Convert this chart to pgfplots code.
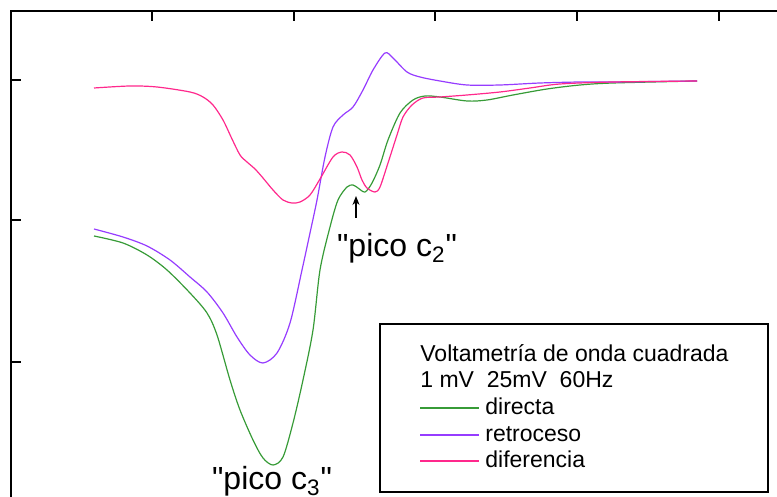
\documentclass[border=0pt]{standalone}
\usepackage{fontspec}
\setmainfont{Liberation Sans}[Ligatures=TeXOff]
\usepackage{pgfplots}
\pgfplotsset{compat=1.18}
\usetikzlibrary{arrows.meta}

\definecolor{cdir}{RGB}{55,155,55}
\definecolor{cret}{RGB}{150,60,255}
\definecolor{cdif}{RGB}{255,40,140}

\tikzset{legtxt/.style={anchor=base west, inner sep=0pt, font=\fontsize{11.5}{13}\selectfont}}

\begin{document}
\begin{tikzpicture}
\begin{axis}[
    x=0.5pt, y=0.5pt,
    xmin=11, xmax=800, ymin=-10, ymax=486,
    xtick={152,294,435,577,719},
    ytick={135,277,417},
    xticklabels={}, yticklabels={},
    tick align=inside,
    major tick length=5pt,
    tick style={line width=1pt, black},
    axis line style={line width=0.6pt},
    clip=false,
]
\coordinate (bl) at (axis cs:0,0);
\coordinate (tr) at (axis cs:777,497);

% directa
\addplot[cdir, line width=0.6pt, smooth, tension=0.5] coordinates {
(94,261) (123,254) (147,242) (167,227) (190,204) (207,184) (217,162)
(230,117) (240,87) (253,57) (263,39) (273,32) (283,40) (293,74)
(303,117) (313,167) (320,227) (330,270) (338,297) (347,310) (353,312)
(358,309) (365,305) (372,314) (380,332) (388,357) (400,384) (413,397)
(425,401) (440,400) (467,396) (487,397) (513,402) (547,408) (580,412)
(613,414) (697,416)
};

% retroceso
\addplot[cret, line width=0.6pt, smooth, tension=0.5] coordinates {
(94,268) (123,260) (147,251) (170,237) (190,220) (207,205) (223,184)
(237,160) (250,142) (263,134) (277,144) (290,174) (302,227) (310,264)
(317,297) (325,340) (333,370) (343,382) (353,390) (363,407) (373,427)
(385,444) (393,439) (407,425) (420,420) (440,416) (467,412) (500,412)
(540,414) (580,415) (613,415) (697,416)
};

% diferencia
\addplot[cdif, line width=0.6pt, smooth, tension=0.5] coordinates {
(94,409) (130,411) (157,410) (190,405) (203,400) (213,392) (223,377)
(232,358) (240,342) (247,335) (255,328) (263,319) (273,307) (283,297)
(292,294) (300,295) (310,302) (320,318) (333,340) (342,345) (350,342)
(357,330) (362,317) (367,309) (375,305) (380,310) (388,334) (397,362)
(403,380) (412,392) (423,399) (440,400) (467,402) (500,405) (530,409)
(560,413) (613,415) (697,416)
};

% legend box
\draw[line width=0.7pt] (axis cs:380,173) rectangle (axis cs:768,5);
\node[legtxt] at (axis cs:420,135) {Voltametría de onda cuadrada};
\node[legtxt] at (axis cs:420,109) {1 mV\ \ 25mV\ \ 60Hz};
\draw[cdir, line width=0.75pt] (axis cs:420,89) -- (axis cs:479,89);
\node[legtxt] at (axis cs:485,82) {directa};
\draw[cret, line width=0.75pt] (axis cs:420,62) -- (axis cs:479,62);
\node[legtxt] at (axis cs:485,55) {retroceso};
\draw[cdif, line width=0.75pt] (axis cs:420,36) -- (axis cs:479,36);
\node[legtxt] at (axis cs:485,29) {diferencia};

\node[anchor=base, font=\fontsize{16}{18}\selectfont] at (axis cs:397,240) {"pico c\textsubscript{2}"};
\node[anchor=base, font=\fontsize{16}{18}\selectfont] at (axis cs:272,7) {"pico c\textsubscript{3}"};
\draw[-{Stealth[length=4.5pt,width=3.5pt]}, line width=0.6pt] (axis cs:356,279) -- (axis cs:356,301);
\end{axis}
\pgfresetboundingbox
\useasboundingbox (bl) rectangle (tr);
\end{tikzpicture}
\end{document}
